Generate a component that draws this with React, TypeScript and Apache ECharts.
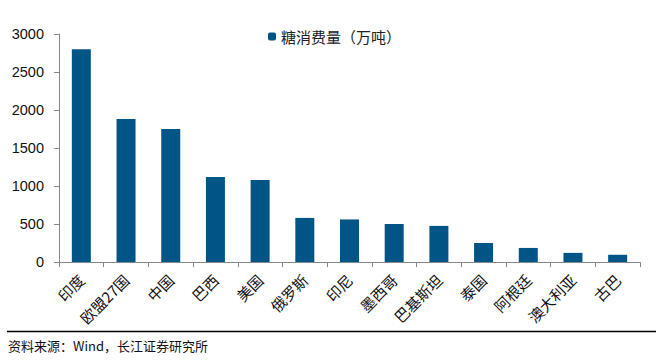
import React, { useEffect, useRef } from "react";
import * as echarts from "echarts";

const categories = ["印度", "欧盟27国", "中国", "巴西", "美国", "俄罗斯", "印尼", "墨西哥", "巴基斯坦", "泰国", "阿根廷", "澳大利亚", "古巴"];
const consumption = [2800, 1880, 1750, 1120, 1080, 580, 560, 500, 475, 250, 185, 120, 95];
const seriesName = "糖消费量（万吨）";
const sourceText = "资料来源：Wind，长江证券研究所";

export default function App() {
  const ref = useRef<HTMLDivElement>(null);
  useEffect(() => {
    const chart = echarts.init(ref.current!, null, { renderer: "svg" });
    chart.setOption({
      animation: false,
      backgroundColor: "#ffffff",
      legend: {
        data: [seriesName],
        top: 24,
        left: 263,
        itemWidth: 8,
        itemHeight: 8,
        itemGap: 4,
        textStyle: { fontSize: 15, color: "#222", fontFamily: "Noto Sans CJK SC" },
      },
      grid: { left: 59, right: 16, top: 34, bottom: 99, containLabel: false },
      xAxis: {
        type: "category",
        data: categories,
        axisLine: { lineStyle: { color: "#888" } },
        axisTick: { show: true, length: 5, lineStyle: { color: "#888" } },
        axisLabel: {
          rotate: 45,
          interval: 0,
          fontSize: 15,
          color: "#111",
          margin: 15,
          fontFamily: "Noto Sans CJK SC",
        },
      },
      yAxis: {
        type: "value",
        min: 0,
        max: 3000,
        interval: 500,
        splitLine: { show: false },
        axisLine: { show: true, lineStyle: { color: "#888" } },
        axisTick: { show: true, length: 5, lineStyle: { color: "#888" } },
        axisLabel: {
          fontSize: 14.5,
          color: "#111",
          margin: 15,
          fontFamily: "Liberation Sans",
          formatter: (v: number) => String(v),
        },
      },
      series: [
        {
          name: seriesName,
          type: "bar",
          data: consumption,
          barWidth: 19,
          itemStyle: { color: "#005587" },
        },
      ],
      graphic: [
        {
          type: "line",
          shape: { x1: 7, y1: 331.5, x2: 656, y2: 331.5 },
          style: { stroke: "#000", lineWidth: 1.5 },
        },
        {
          type: "text",
          left: 8,
          top: 339,
          style: { text: sourceText, fontSize: 13, fill: "#111", fontFamily: "Noto Sans CJK SC" },
        },
      ],
    });
    return () => chart.dispose();
  }, []);
  return <div ref={ref} style={{ width: 656, height: 361, position: "absolute", left: 0, top: 0 }} />;
}
